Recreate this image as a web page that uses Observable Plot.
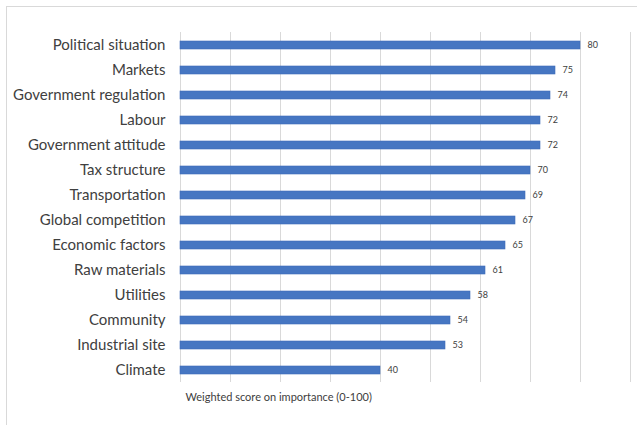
<!DOCTYPE html>
<html>
<head>
<meta charset="utf-8">
<script src="https://cdn.jsdelivr.net/npm/d3@7"></script>
<script src="https://cdn.jsdelivr.net/npm/@observablehq/plot@0.6"></script>
<style>
  html, body { margin: 0; padding: 0; background: #fff; }
  #wrap { position: relative; width: 637px; height: 425px; overflow: hidden; }
  #frame { position: absolute; left: 6px; top: 6px; right: 0; bottom: 0;
           border-top: 1px solid #d9d9d9; border-left: 1px solid #d9d9d9; pointer-events: none; }
</style>
</head>
<body>
<div id="wrap"><div id="frame"></div></div>
<script>
const categories = ["Political situation","Markets","Government regulation","Labour","Government attitude","Tax structure","Transportation","Global competition","Economic factors","Raw materials","Utilities","Community","Industrial site","Climate"];
const scores = [80,75,74,72,72,70,69,67,65,61,58,54,53,40];
const gridTicks = [0,10,20,30,40,50,60,70,80,90];
const axisTitle = "Weighted score on importance (0-100)";

const data = categories.map((c, i) => ({category: c, score: scores[i]}));
const font = "Lato, 'Open Sans', sans-serif";

const chart = Plot.plot({
  width: 637,
  height: 425,
  marginLeft: 180,
  marginRight: 7,
  marginTop: 32,
  marginBottom: 43,
  style: {fontFamily: font, background: "transparent", overflow: "visible"},
  x: {domain: [0, 90], axis: null},
  y: {domain: categories, paddingInner: 0.68, paddingOuter: 0.34, axis: null},
  marks: [
    Plot.ruleX(gridTicks, {stroke: "#d9d9d9", strokeWidth: 1}),
    Plot.barX(data, {x: "score", y: "category", fill: "#4676c2", stroke: "#3f6cb8", strokeWidth: 0.6}),
    Plot.text(data, {x: "score", y: "category", text: d => String(d.score), dx: 7, textAnchor: "start", fontSize: 9, fill: "#404040"}),
    Plot.axisY({tickSize: 0, tickPadding: 15, fontSize: 15, color: "#404040", label: null}),
    Plot.text([axisTitle], {frameAnchor: "bottom-left", dx: 5, dy: 18, fontSize: 11, fill: "#404040", text: d => d})
  ]
});
const wrap = document.getElementById("wrap");
chart.style.position = "absolute";
chart.style.left = "0";
chart.style.top = "0";
wrap.insertBefore(chart, wrap.firstChild);
</script>
</body>
</html>
